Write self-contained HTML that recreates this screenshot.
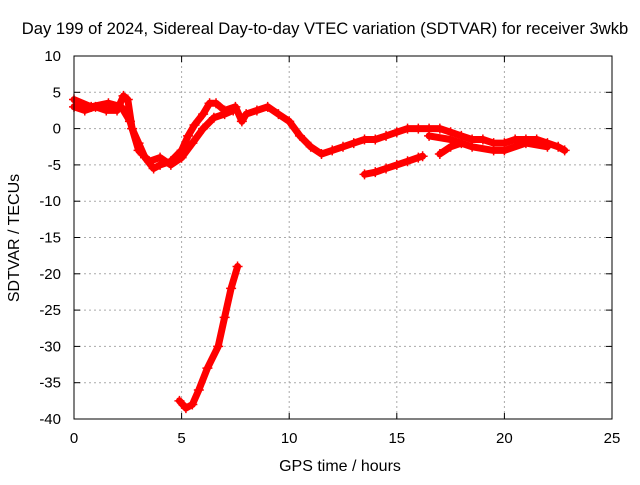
<!DOCTYPE html>
<html><head><meta charset="utf-8"><style>
body{margin:0;background:#fff}
svg text{font-family:"Liberation Sans",sans-serif;font-size:15px;fill:#000}
</style></head><body>
<svg id="chart" width="640" height="480">
<text x="325" y="34" text-anchor="middle" style="font-size:16.6px">Day 199 of 2024, Sidereal Day-to-day VTEC variation (SDTVAR) for receiver 3wkb</text>
<g id="grid"></g>
<g id="axes"></g>
<g id="series"></g>
<rect x="74" y="56" width="538" height="363" fill="none" stroke="#000"/>
<text x="340" y="471" text-anchor="middle" style="font-size:16px">GPS time / hours</text>
<text transform="translate(19,238) rotate(-90)" text-anchor="middle" style="font-size:16px">SDTVAR / TECUs</text>
</svg>
<script>
const xTicks=[0,5,10,15,20,25];
const yTicks=[10,5,0,-5,-10,-15,-20,-25,-30,-35,-40];
const traceMainT=[0,0.5,1,1.5,2,2.3,2.5,2.7,3,3.3,3.7,4,4.5,5,5.3,5.6,6,6.3,6.6,7,7.5,7.8,8,8.5,9,9.5,10,10.5,11,11.5,12,12.5,13,13.5,14,14.5,15,15.5,16,16.5,17,17.5,18,18.5,19,19.5,20,20.5,21,21.5,22,22.5,22.8];
const traceMainV=[3,2.5,3,2.5,2.5,4.5,4,0,-2,-4,-5.5,-5,-4.5,-3,-1,0.5,2,3.5,3.5,2.5,3,1,2,2.5,3,2,1,-1,-2.5,-3.5,-3,-2.5,-2,-1.5,-1.5,-1,-0.5,0,0,0,0,-0.5,-1,-1.5,-1.5,-2,-2,-1.5,-1.5,-1.5,-2,-2.5,-3];
const traceAltT=[0,0.8,1.6,2.2,2.6,3,3.5,4,4.5,5,5.5,6,6.5,7,7.4];
const traceAltV=[4,3,3.5,3,1,-3,-4.5,-4,-5,-4,-2,0,1.5,2,2.5];
const traceLowT=[16.5,17.5,18.5,19.5,20,21,22];
const traceLowV=[-1,-1.5,-2.5,-3,-3,-2,-2.5];
const traceBT=[13.5,14,14.5,15,15.5,16,16.2];
const traceBV=[-6.3,-6,-5.5,-5,-4.5,-4,-3.8];
const traceCT=[17,17.5,18];
const traceCV=[-3.5,-2.5,-2];
const traceDT=[4.9,5.2,5.5,5.8,6.2,6.7,7,7.3,7.6];
const traceDV=[-37.5,-38.5,-38,-36,-33,-30,-26,-22,-19];
const X=t=>74+t*(538/25);
const Y=v=>56+(10-v)*(363/50);
const NS="http://www.w3.org/2000/svg";
const grid=document.getElementById('grid'),axes=document.getElementById('axes'),ser=document.getElementById('series');
function mk(tag,attrs,parent){const e=document.createElementNS(NS,tag);for(const k in attrs)e.setAttribute(k,attrs[k]);parent.appendChild(e);return e;}
xTicks.forEach(t=>{
 const gl=mk('line',{x1:X(t),x2:X(t),y1:56,y2:419,stroke:'#aaa','stroke-dasharray':'2,3'},grid);
 
 
 const lb=mk('text',{x:X(t),y:443,'text-anchor':'middle'},axes);lb.textContent=t;
 
 
 mk('line',{x1:X(t),x2:X(t),y1:419,y2:413,stroke:'#000'},axes);
 mk('line',{x1:X(t),x2:X(t),y1:56,y2:62,stroke:'#000'},axes);
});
yTicks.forEach(v=>{
 const gl=mk('line',{x1:74,x2:612,y1:Y(v),y2:Y(v),stroke:'#aaa','stroke-dasharray':'2,3'},grid);
 
 
 const lb=mk('text',{x:61,y:Y(v)+5,'text-anchor':'end'},axes);lb.textContent=v;
 
 
 mk('line',{x1:74,x2:80,y1:Y(v),y2:Y(v),stroke:'#000'},axes);
 mk('line',{x1:612,x2:606,y1:Y(v),y2:Y(v),stroke:'#000'},axes);
});
function trace(ts,vs,name){
 const d=ts.map((t,i)=>(i?'L':'M')+X(t).toFixed(1)+','+Y(vs[i]).toFixed(1)).join('');
 const p=mk('path',{d:d,fill:'none',stroke:'#f00','stroke-width':7,'stroke-linejoin':'round','stroke-linecap':'round'},ser);
 
 
 ts.forEach((t,i)=>{const x=X(t),y=Y(vs[i]);
  mk('path',{d:`M${x-5},${y}h10M${x},${y-5}v10`,stroke:'#f00','stroke-width':1.5},ser);});
}
trace(traceMainT,traceMainV,'trace-main');
trace(traceAltT,traceAltV,'trace-alt');
trace(traceLowT,traceLowV,'trace-low');
trace(traceBT,traceBV,'trace-b');
trace(traceCT,traceCV,'trace-c');
trace(traceDT,traceDV,'trace-d');
</script>
</body></html>
